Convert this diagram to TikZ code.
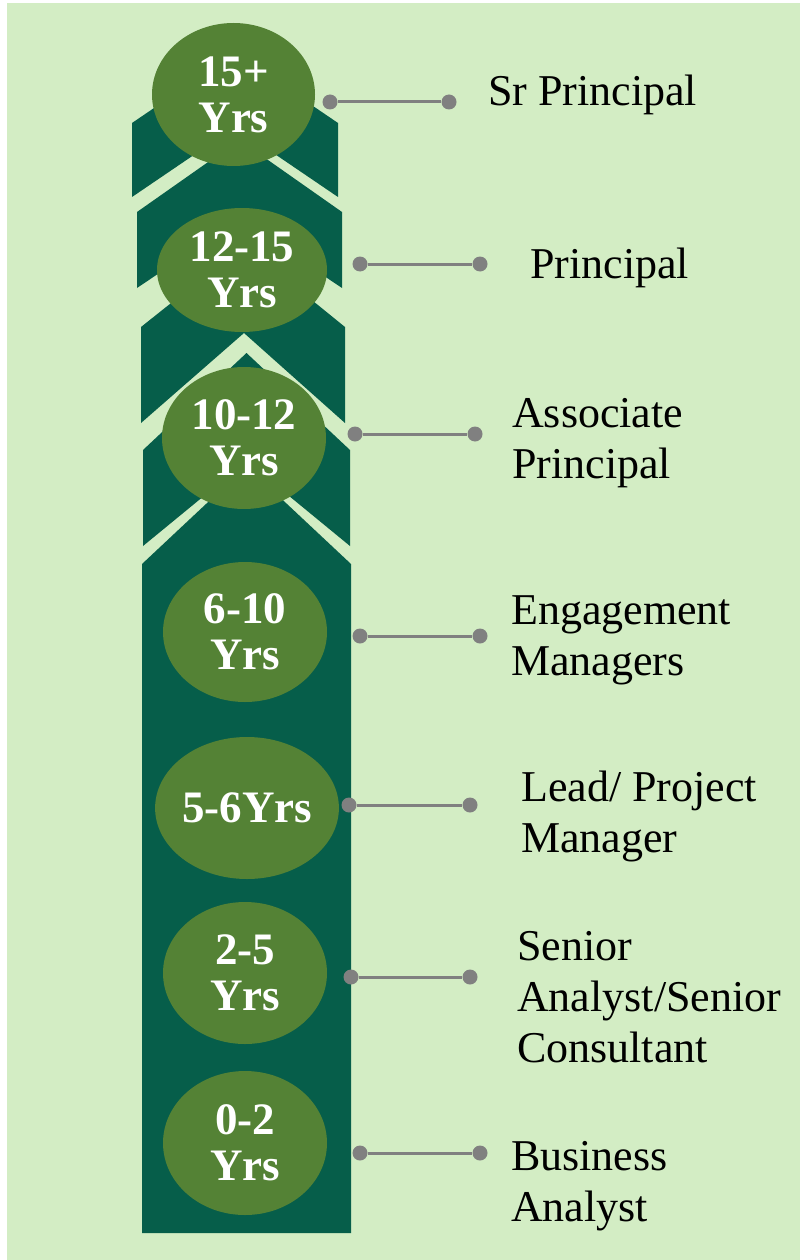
\documentclass[tikz,border=0pt]{standalone}
\usepackage{fontspec}
\setmainfont{Liberation Serif}
\usetikzlibrary{shapes.geometric}
\definecolor{bggreen}{RGB}{211,237,196}
\definecolor{chevgreen}{RGB}{6,94,74}
\definecolor{yrsgreen}{RGB}{84,130,53}
\definecolor{pingrey}{RGB}{128,128,128}
\tikzset{
  chev/.style={fill=chevgreen},
  yrs/.style={
    ellipse,
    fill=yrsgreen,
    text=white,
    inner sep=0pt,
    align=center,
    font=\fontsize{45}{46}\selectfont\bfseries},
  dot/.style={circle, fill=pingrey, inner sep=0pt, minimum size=15pt},
  conn/.style={draw=pingrey, line width=3pt},
  role/.style={
    anchor=base west,
    align=left,
    inner sep=0pt,
    font=\fontsize{44}{51}\selectfont},
}
\begin{document}
\begin{tikzpicture}[x=1pt,y=-1pt]
  \useasboundingbox (0,0) rectangle (800,1260);
  \fill[bggreen] (7,3) rectangle (800,1260);
  \fill[chev] (132,123) -- (235,53) -- (338,123) -- (338,197) -- (235,127) -- (132,197) -- cycle;
  \fill[chev] (137,212) -- (239.5,140) -- (342,212) -- (342,288) -- (239.5,219) -- (137,288) -- cycle;
  \fill[chev] (141,327) -- (244,245) -- (345,327) -- (345,423) -- (244,333) -- (141,423) -- cycle;
  \fill[chev] (143,450) -- (246.5,353) -- (350,450) -- (350,546) -- (246.5,461) -- (143,546) -- cycle;
  \fill[chev] (142,564) -- (246.5,466) -- (351,564) -- (351,1233) -- (142,1233) -- cycle;

  \node[yrs, minimum width=163pt, minimum height=143pt] (y15) at (233.5,94.5) {15+\\Yrs};
  \node[yrs, minimum width=170pt, minimum height=124pt] (y12) at (242,270) {12-15\\Yrs};
  \node[yrs, minimum width=164pt, minimum height=142pt] (y10) at (244,438) {10-12\\Yrs};
  \node[yrs, minimum width=164pt, minimum height=140pt] (y6) at (245,632) {6-10\\Yrs};
  \node[yrs, minimum width=175pt, minimum height=142pt] (y5) at (247,808) {5-6Yrs};
  \node[yrs, minimum width=164pt, minimum height=142pt] (y2) at (245,973) {2-5\\Yrs};
  \node[yrs, minimum width=164pt, minimum height=144pt] (y0) at (245,1143) {0-2\\Yrs};

  \node[dot] (srL) at (330,102) {};  \node[dot] (srR) at (449,102) {};
  \node[dot] (prL) at (360,264) {};  \node[dot] (prR) at (480,264) {};
  \node[dot] (apL) at (355,434) {};  \node[dot] (apR) at (475,434) {};
  \node[dot] (emL) at (360,636) {};  \node[dot] (emR) at (480,636) {};
  \node[dot] (pmL) at (349,805) {};  \node[dot] (pmR) at (470,805) {};
  \node[dot] (saL) at (351,977) {};  \node[dot] (saR) at (470,977) {};
  \node[dot] (baL) at (360,1153) {}; \node[dot] (baR) at (480,1153) {};
  \draw[conn] (srL) -- (srR);
  \draw[conn] (prL) -- (prR);
  \draw[conn] (apL) -- (apR);
  \draw[conn] (emL) -- (emR);
  \draw[conn] (pmL) -- (pmR);
  \draw[conn] (saL) -- (saR);
  \draw[conn] (baL) -- (baR);

  \node[role] (sr) at (488,106) {Sr Principal};
  \node[role] (pr) at (530,278) {Principal};
  \node[role] (ap) at (512,478) {Associate\\Principal};
  \node[role] (em) at (511,675) {Engagement\\Managers};
  \node[role] (pm) at (521,852) {Lead/ Project\\Manager};
  \node[role] (sa) at (517,1062) {Senior\\Analyst/Senior\\Consultant};
  \node[role] (ba) at (511,1221) {Business\\Analyst};
\end{tikzpicture}
\end{document}
